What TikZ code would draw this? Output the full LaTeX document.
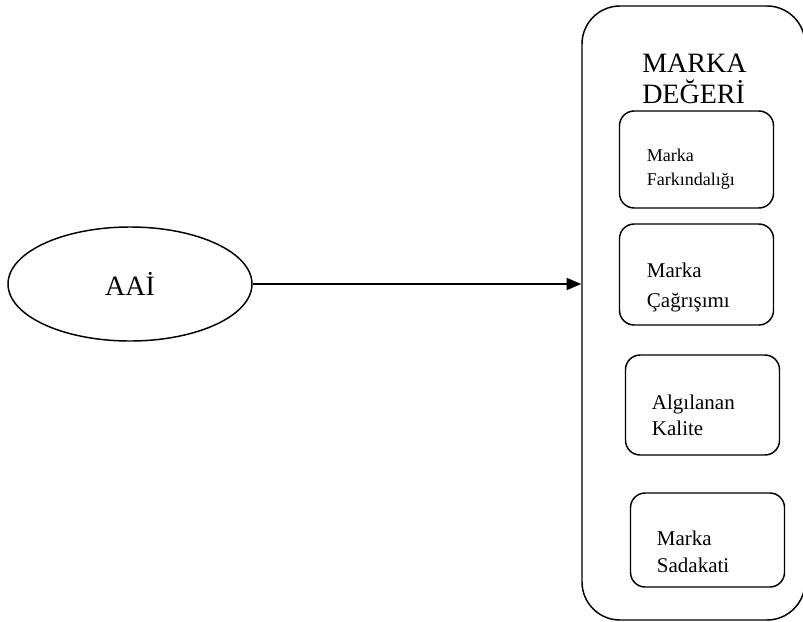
\documentclass[tikz,border=0pt]{standalone}
\usepackage{fontspec}
\setmainfont{Liberation Serif}
\usetikzlibrary{shapes.geometric,arrows.meta}

\begin{document}
\begin{tikzpicture}[x=0.75pt,y=0.75pt,yscale=-1,xscale=1,
    cizgi/.style={line width=1.1pt},
    kutu/.style={cizgi,draw,rounded corners=11pt,minimum width=115.5pt,inner sep=0pt},
    yazi/.style={anchor=base west,inner sep=0pt,align=left}]

            % Frame
            \useasboundingbox (0,0) rectangle (803,621);

            % Ellipse
            \node [cizgi,draw,ellipse,minimum width=183pt,minimum height=85.5pt,inner sep=0pt,font=\fontsize{21}{25}\selectfont] (aai) at (130,284) {AAİ};

            % Outer box
            \node [cizgi,draw,rounded corners=28.5pt,minimum width=167.25pt,minimum height=460.5pt,inner sep=0pt] (deger) at (693.5,313) {};
            \node [yazi,font=\fontsize{21}{23.25}\selectfont] (baslik) at (642,103) {MARKA\\DEĞERİ};

            % Inner boxes
            \node [kutu,minimum height=72.75pt] (farkindalik) at (696.5,159.5) {};
            \node [kutu,minimum height=75.75pt] (cagrisim) at (696.5,274.5) {};
            \node [kutu,minimum height=75pt] (kalite) at (702.5,405) {};
            \node [kutu,minimum height=70.5pt] (sadakat) at (707.5,540) {};

            % Texts (anchored at the last line)
            \node [yazi,font=\fontsize{13.5}{18}\selectfont] (farkindalik-y) at (646.7,185) {Marka\\Farkındalığı};
            \node [yazi,font=\fontsize{15.75}{22.5}\selectfont] (cagrisim-y) at (646.7,307) {Marka\\Çağrışımı};
            \node [yazi,font=\fontsize{15.75}{19.5}\selectfont] (kalite-y) at (651.7,435) {Algılanan\\Kalite};
            \node [yazi,font=\fontsize{15.75}{20.25}\selectfont] (sadakat-y) at (656.7,572) {Marka\\Sadakati};

            % Arrow
            \draw [cizgi,-{Triangle[length=11pt,width=9pt]}] (aai.east) -- (aai.east -| deger.west);

\end{tikzpicture}
\end{document}
